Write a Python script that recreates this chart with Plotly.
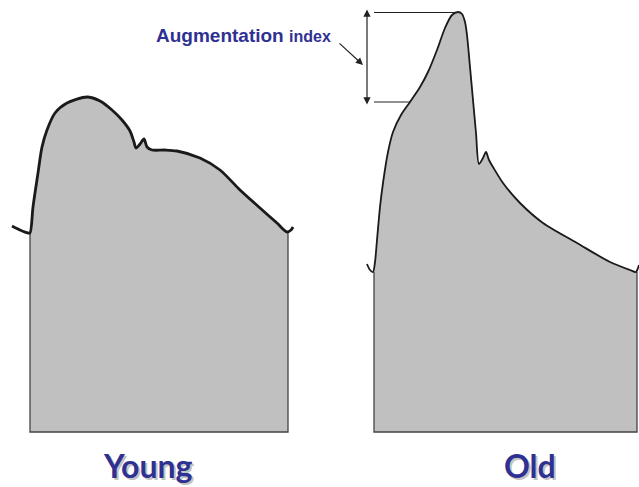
import plotly.graph_objects as go

# Pressure waveform outlines, in picture units (x to the right, y downwards)
young_x = [12, 20, 28, 30, 33, 38, 42, 47, 55, 67, 87, 100, 112, 122, 130, 134, 136,
           140, 144, 147, 152, 165, 177, 200, 220, 240, 260, 277, 287, 291, 293]
young_y = [226, 230, 233, 233, 207, 173, 147, 130, 113, 103, 97, 101, 110, 120, 131, 142, 148,
           144, 139, 147, 150, 150, 151, 158, 170, 190, 208, 223, 232, 230, 227]

old_x = [367, 370, 373, 375, 377, 380, 383, 388, 393, 401, 410, 420, 428, 437, 445, 452, 458,
         462, 465, 467, 470, 473, 476, 479, 483, 486, 489, 493, 503, 520, 543, 577, 610,
         630, 636, 638, 639]
old_y = [264, 270, 272, 262, 240, 207, 183, 152, 132, 115, 102, 87, 72, 50, 28, 15, 12,
         14, 22, 35, 67, 100, 133, 164, 158, 152, 160, 167, 183, 203, 223, 243, 262,
         270, 272, 268, 265]

# box under each wave: left, right, bottom
young_box = [30, 288, 432]
old_box = [374, 637, 432]

# augmentation index markers
aug_x = 367
aug_peak_y = 12.5
aug_shoulder_y = 102
aug_peak_x = 460
aug_shoulder_x = 410

labels = ["Young", "Old"]
label_x = [148, 530]

GRAY = "#c0c0c0"
BLUE = "#2e3192"

fig = go.Figure()


def add_wave(xs, ys, box, lw):
    left, right, bottom = box
    # fill edge = curve without the little hooks at either end
    i0 = 2
    i1 = len(xs) - 2
    fig.add_trace(go.Scatter(
        x=[left, left, right, right], y=[ys[i0], bottom, bottom, ys[i1 - 1]],
        mode="lines", line=dict(color="#444444", width=1.3),
        hoverinfo="skip", showlegend=False,
    ))
    fig.add_trace(go.Scatter(
        x=xs[i0:i1], y=ys[i0:i1], mode="lines",
        line=dict(width=0, shape="spline", smoothing=0.8),
        fill="tonexty", fillcolor=GRAY,
        hoverinfo="skip", showlegend=False,
    ))
    fig.add_trace(go.Scatter(
        x=xs, y=ys, mode="lines",
        line=dict(color="#1a1a1a", width=lw, shape="spline", smoothing=0.8),
        hoverinfo="skip", showlegend=False,
    ))


add_wave(young_x, young_y, young_box, 2.8)
add_wave(old_x, old_y, old_box, 1.8)

# horizontal guide lines for augmentation index
fig.add_trace(go.Scatter(
    x=[old_box[0], aug_peak_x, None, old_box[0], aug_shoulder_x],
    y=[aug_peak_y, aug_peak_y, None, aug_shoulder_y, aug_shoulder_y],
    mode="lines", line=dict(color="#222222", width=1.2),
    hoverinfo="skip", showlegend=False,
))

# double-headed vertical arrow
fig.add_annotation(
    x=aug_x, y=aug_peak_y - 3, ax=aug_x, ay=aug_shoulder_y + 4,
    xref="x", yref="y", axref="x", ayref="y",
    text="", showarrow=True, arrowhead=2, startarrowhead=2,
    arrowside="end+start", arrowsize=1.2, arrowwidth=1.2, arrowcolor="#222222",
)

# pointer from label to the arrow
fig.add_annotation(
    x=363, y=65, ax=338, ay=42,
    xref="x", yref="y", axref="x", ayref="y",
    text="", showarrow=True, arrowhead=2, arrowsize=1.2,
    arrowwidth=1.2, arrowcolor="#222222",
)

fig.add_annotation(
    x=243, y=35, xref="x", yref="y", showarrow=False,
    text="<b>Augmentation</b> <b><span style='font-size:16px'>index</span></b>",
    font=dict(family="Liberation Sans, Arial", size=19, color=BLUE),
)

for name, lx in zip(labels, label_x):
    # soft shadow then the label itself
    fig.add_annotation(
        x=lx + 2, y=467, xref="x", yref="y", showarrow=False,
        text=f"<b>{name}</b>",
        font=dict(family="Comic Sans MS, Lato", size=32, color="rgba(120,120,120,0.45)"),
    )
    fig.add_annotation(
        x=lx, y=465, xref="x", yref="y", showarrow=False,
        text=f"<b>{name}</b>",
        font=dict(family="Comic Sans MS, Lato", size=32, color=BLUE),
    )

fig.update_xaxes(range=[0, 639], visible=False, fixedrange=True)
fig.update_yaxes(range=[487, 0], visible=False, fixedrange=True)
fig.update_layout(
    width=639, height=487,
    margin=dict(l=0, r=0, t=0, b=0),
    plot_bgcolor="white", paper_bgcolor="white",
    showlegend=False,
)

# drop the page's default body margin so the figure sits at the window corner
fig.write_html(
    "out.html",
    config={"displayModeBar": False},
    post_script="document.body.style.margin='0';document.body.style.overflow='hidden';",
)
